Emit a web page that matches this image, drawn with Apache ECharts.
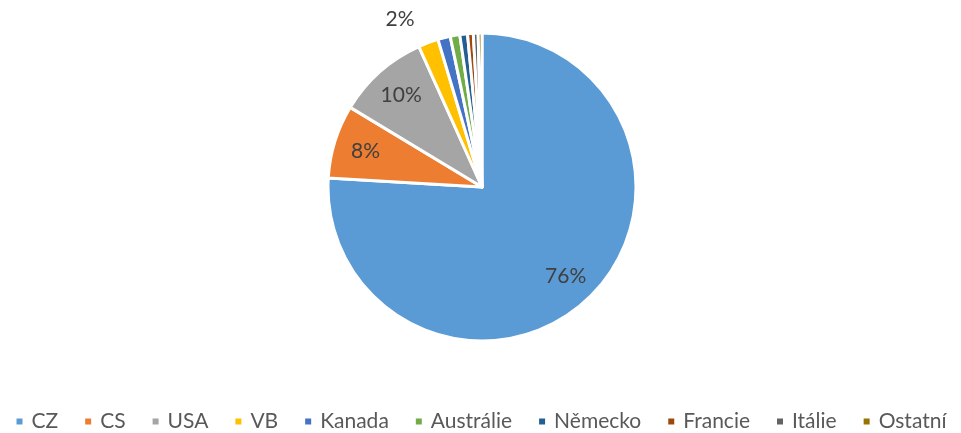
<!DOCTYPE html>
<html><head><meta charset="utf-8">
<script src="https://cdn.jsdelivr.net/npm/echarts@6/dist/echarts.min.js"></script>
<style>html,body{margin:0;padding:0;background:#fff}#c{width:961px;height:433px}</style>
</head><body><div id="c"></div>
<script>
const categories = ['CZ','CS','USA','VB','Kanada','Austrálie','Německo','Francie','Itálie','Ostatní'];
const values = [75.7, 7.7, 9.6, 2.1, 1.3, 1.0, 0.8, 0.6, 0.5, 0.4];
const colors = ['#5B9BD5','#ED7D31','#A5A5A5','#FFC000','#4472C4','#70AD47','#255E91','#9E480E','#636363','#997300'];
const insideLabels = ['CZ','CS','USA'];
const outsideLabels = ['VB'];

const FONT = 'Lato';
const total = values.reduce((a,b)=>a+b,0);
const fmt = p => Math.round(p.value / total * 100) + '%';

const mainData = categories.map((n,i)=>({
  name:n, value:values[i], itemStyle:{color:colors[i]},
  label:{show: outsideLabels.includes(n)}
}));
const labelData = categories.map((n,i)=>({
  name:n, value:values[i],
  label:{show: insideLabels.includes(n)}
}));

const chart = echarts.init(document.getElementById('c'));
chart.setOption({
  animation:false,
  color: colors,
  legend:{
    data: categories,
    bottom: -4, left:'center',
    icon:'rect', itemWidth:8, itemHeight:8, itemGap:25,
    textStyle:{fontFamily:FONT, fontSize:21, color:'#595959', padding:[0,0,0,3]}
  },
  series:[
    {
      type:'pie', center:[482,187], radius:[0,154], startAngle:90, clockwise:true,
      data: mainData, silent:true,
      itemStyle:{borderColor:'#fff', borderWidth:3},
      label:{position:'outside', formatter:fmt, fontFamily:FONT, fontSize:21, color:'#404040'},
      labelLine:{show:false, length:25, length2:0}
    },
    {
      type:'pie', center:[482,187], radius:[84,154], startAngle:90, clockwise:true,
      data: labelData, silent:true, legendHoverLink:false,
      itemStyle:{color:'rgba(0,0,0,0)', borderWidth:0},
      label:{position:'inside', formatter:fmt, fontFamily:FONT, fontSize:21, color:'#404040'},
      labelLine:{show:false}
    }
  ]
});
</script></body></html>
